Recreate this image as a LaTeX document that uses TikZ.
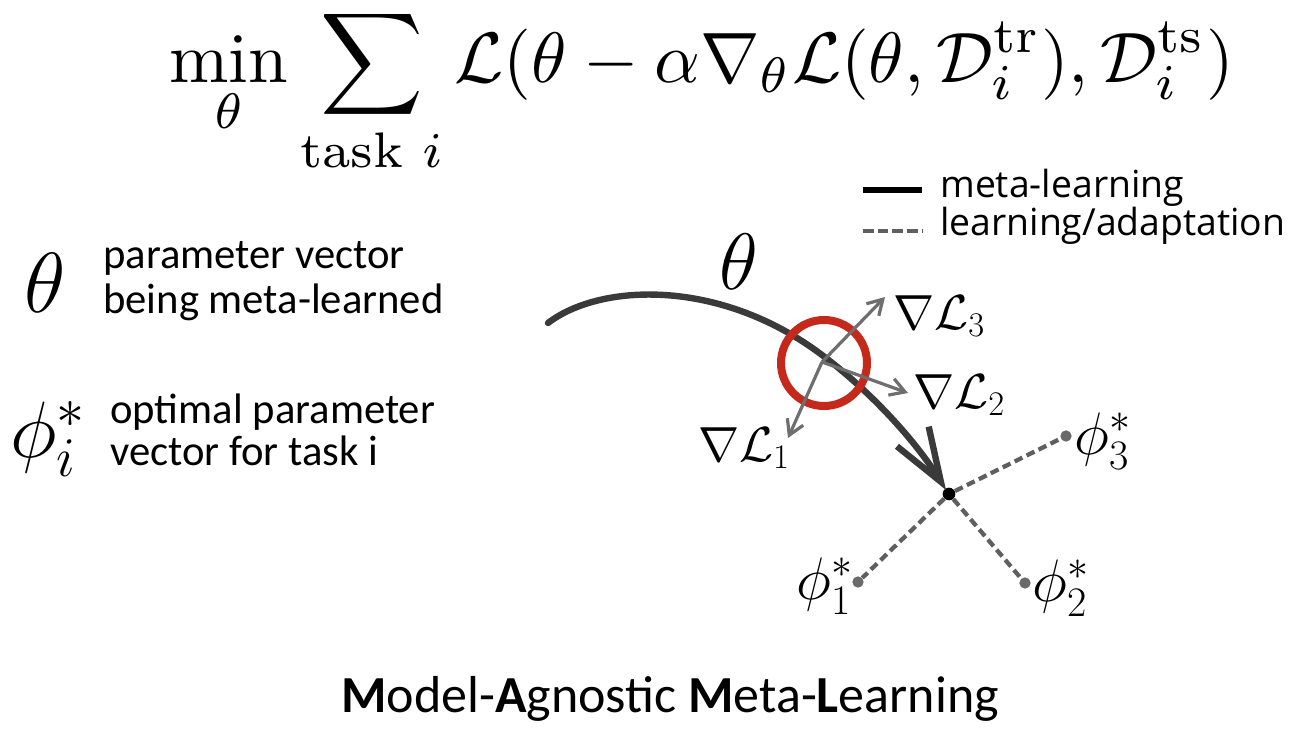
\RequirePackage{fix-cm}
\documentclass[tikz,border=0pt]{standalone}
\usepackage{amsmath}
\usepackage{fontspec}
\newfontfamily\calibrifont{Carlito}
\newfontfamily\legendfont{Open Sans}
\usetikzlibrary{arrows.meta}
\definecolor{curvegray}{HTML}{3A3A3A}
\definecolor{arrowgray}{HTML}{6E6E6E}
\definecolor{dashgray}{HTML}{5F5F5F}
\definecolor{dotgray}{HTML}{6A6A6A}
\definecolor{mamlred}{HTML}{C4291C}
\tikzset{
  metaline/.style={line width=4.8pt, draw=curvegray, line cap=round},
  adapt/.style={line width=3.2pt, draw=dashgray, dash pattern=on 6.5pt off 3.5pt},
  gradarrow/.style={line width=2.4pt, draw=arrowgray, -{Straight Barb[length=11pt,width=13pt]}},
  mathlbl/.style={inner sep=0pt, font=\fontsize{37}{44}\selectfont},
  philbl/.style={inner sep=0pt, font=\fontsize{45}{52}\selectfont},
  sans/.style={inner sep=0pt, font=\calibrifont\fontsize{32}{38}\selectfont},
  legendtxt/.style={inner sep=0pt, font=\legendfont\fontsize{28}{32}\selectfont},
  enddot/.style={circle, fill=dotgray, inner sep=0pt, minimum size=8.5pt},
}
\begin{document}
\begin{tikzpicture}[x=0.75pt,y=-0.75pt]
\fill[white] (0,0) rectangle (1312,728);
\useasboundingbox (0,0) rectangle (1312,728);

% formula
\node[anchor=base west, inner sep=0pt, font=\fontsize{10}{12}\selectfont, scale=5.35] (eq) at (168,82)
  {$\displaystyle\min_{\theta}\sum_{\text{task } i}\mathcal{L}(\theta-\alpha\nabla_{\theta}\mathcal{L}(\theta,\mathcal{D}_i^{\mathrm{tr}}),\mathcal{D}_i^{\mathrm{ts}})$};

% left legend
\node[inner sep=0pt, font=\fontsize{64}{72}\selectfont] (thsym) at (45,283) {$\theta$};
\node[sans, anchor=base west] (thd1) at (103,268) {parameter vector};
\node[sans, anchor=base west] (thd2) at (103,313) {being meta-learned};
\node[inner sep=0pt, anchor=base west, font=\fontsize{60}{68}\selectfont] (phisym) at (10,457) {$\phi_i^*$};
\node[sans, anchor=base west] (phd1) at (110,423) {optimal parameter};
\node[sans, anchor=base west] (phd2) at (110,465) {vector for task i};

% line legend
\coordinate (lg1a) at (863,190);
\coordinate (lg1b) at (922,190);
\draw[line width=4.5pt, black] (lg1a) -- (lg1b);
\node[legendtxt, anchor=base west] (lgt1) at (940,197) {meta-learning};
\coordinate (lg2a) at (863,231);
\coordinate (lg2b) at (922,231);
\draw[adapt, dash pattern=on 8pt off 3pt] (lg2a) -- (lg2b);
\node[legendtxt, anchor=base west] (lgt2) at (940,235) {learning/adaptation};

% adaptation lines
\node[circle, fill=black, inner sep=0pt, minimum size=9.5pt] (opt) at (949,494) {};
\node[enddot] (p3) at (1066,436) {};
\node[enddot] (p2) at (1025,583) {};
\node[enddot] (p1) at (858,582) {};
\draw[adapt] (opt) -- (p3);
\draw[adapt] (opt) -- (p2);
\draw[adapt] (opt) -- (p1);
\node[philbl, anchor=west] (f3) at (1074,441) {$\phi_3^*$};
\node[philbl, anchor=west] (f2) at (1032,588) {$\phi_2^*$};
\node[philbl, anchor=east] (f1) at (853,586) {$\phi_1^*$};

% meta-learning curve
\coordinate (cstart) at (548,323);
\coordinate (cmid) at (822,355);
\coordinate (ctip) at (946,490);
\draw[metaline, -{Straight Barb[length=40pt,width=28pt]}] (cstart) .. controls (600,283) and (720,278) .. (cmid) .. controls (870,391) and (915,440) .. (ctip);
\node[inner sep=0pt, font=\fontsize{60}{70}\selectfont] (thlbl) at (739,262) {$\theta$};

% red circle
\node[circle, draw=mamlred, line width=6pt, inner sep=0pt, minimum size=64.5pt] (focus) at (824,363) {};

% gradients
\coordinate (g0) at (822,362);
\coordinate (g3) at (885,297);
\coordinate (g2) at (908,393);
\coordinate (g1) at (788,438);
\draw[gradarrow] (g0) -- (g3);
\draw[gradarrow] (g0) -- (g2);
\draw[gradarrow] (g0) -- (g1);
\node[mathlbl, anchor=west] (l3) at (893,316) {$\nabla\mathcal{L}_3$};
\node[mathlbl, anchor=west] (l2) at (913,395) {$\nabla\mathcal{L}_2$};
\node[mathlbl, anchor=east] (l1) at (790,448) {$\nabla\mathcal{L}_1$};

% title
\node[anchor=base, inner sep=0pt, font=\calibrifont\fontsize{39}{44}\selectfont] (title) at (670,712)
  {\textbf{M}odel-\textbf{A}gnostic \textbf{M}eta-\textbf{L}earning};
\end{tikzpicture}
\end{document}
